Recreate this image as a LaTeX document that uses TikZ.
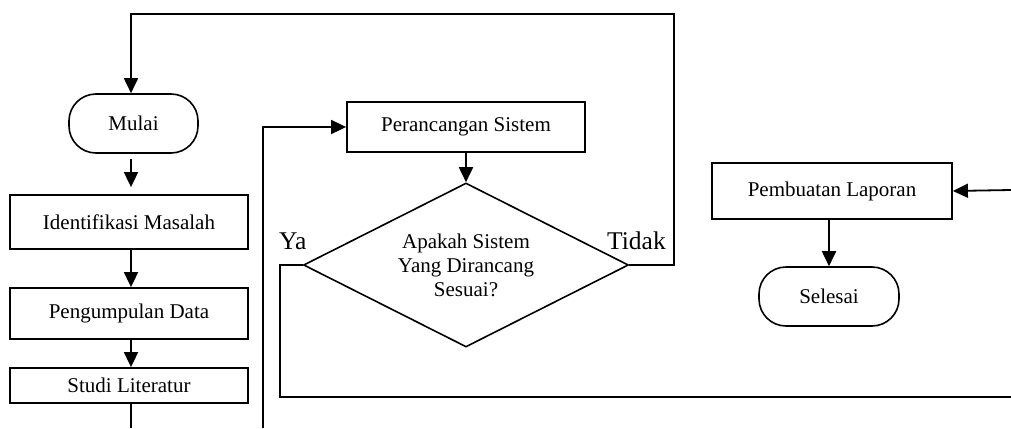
\documentclass[tikz,border=0pt]{standalone}
\usepackage{fontspec}
\setmainfont{Liberation Serif}
\usetikzlibrary{shapes.geometric,arrows.meta}
\begin{document}
\begin{tikzpicture}[x=1pt,y=-1pt,
  every node/.style={font=\fontsize{21}{24}\selectfont},
  procbox/.style={draw,line width=1.8pt,rectangle,inner sep=0pt},
  termbox/.style={draw,line width=1.6pt,rectangle,rounded corners=27pt,inner sep=0pt},
  decide/.style={draw,line width=1.6pt,diamond,aspect=2,inner sep=0pt,align=center,
    minimum width=325pt,minimum height=164pt},
  lbl/.style={font=\fontsize{25.5}{28}\selectfont,inner sep=0pt,anchor=base west},
  conn/.style={line width=1.8pt},
  arr/.style={conn,-{Triangle[length=15pt,width=14pt]}}
]
\useasboundingbox (0,0) rectangle (1011,428);

\node[termbox,minimum width=129pt,minimum height=59pt] (mulai) at (133.5,123.5) {Mulai};
\node[procbox,minimum width=238pt,minimum height=54pt] (ident) at (129,222) {Identifikasi Masalah};
\node[procbox,minimum width=238pt,minimum height=51pt] (kumpul) at (129,313.5) {Pengumpulan Data};
\node[procbox,minimum width=238pt,minimum height=35pt] (studi) at (129,385.5) {Studi Literatur};
\node[procbox,minimum width=238pt,minimum height=50pt] (rancang) at (466,127) {Perancangan Sistem};
\node[decide] (sesuai) at (466,265) {Apakah Sistem\\Yang Dirancang\\Sesuai?};
\node[procbox,minimum width=240pt,minimum height=56pt] (lapor) at (832,191) {Pembuatan Laporan};
\node[termbox,minimum width=140pt,minimum height=59pt] (selesai) at (829,296.5) {Selesai};

\node[lbl] (ya) at (279,249) {Ya};
\node[lbl] (tidak) at (607,249) {Tidak};

\coordinate (studiEnd) at (131,428);
\coordinate (loopStart) at (263,428);
\coordinate (yaEnd) at (1011,397);
\coordinate (laporStart) at (1011,190);

\draw[arr,shorten <=5pt,shorten >=7pt] (mulai.south -| 131,0) -- (ident.north -| 131,0);
\draw[arr] (ident.south -| 131,0) -- (kumpul.north -| 131,0);
\draw[arr] (kumpul.south -| 131,0) -- (studi.north -| 131,0);
\draw[conn] (studi.south -| 131,0) -- (studiEnd);
\draw[arr] (loopStart) |- (rancang.west);
\draw[arr] (rancang.south) -- (sesuai.north);
\draw[arr] (sesuai.east) -- (674,265) -- (674,14) -- (131,14) -- (mulai.north -| 131,0);
\draw[conn] (sesuai.west) -- (280,265) -- (280,397) -- (yaEnd);
\draw[arr] (laporStart) -- (lapor.east);
\draw[arr] (lapor.south -| 829,0) -- (selesai.north);
\end{tikzpicture}
\end{document}
